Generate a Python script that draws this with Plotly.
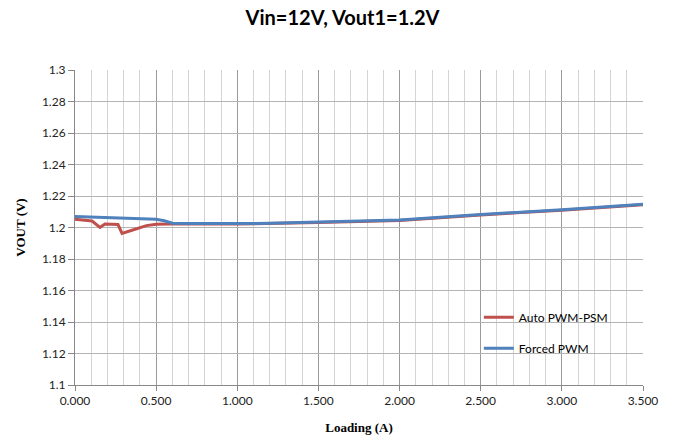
import plotly.graph_objects as go

title_text = "Vin=12V, Vout1=1.2V"
x_title = "Loading (A)"
y_title = "VOUT (V)"

auto_name = "Auto PWM-PSM"
auto_x = [0.0, 0.06, 0.105, 0.154, 0.185, 0.265, 0.29, 0.37, 0.44, 0.5, 0.585, 0.7, 1.0, 1.5, 2.0, 2.5, 3.0, 3.5]
auto_y = [1.2052, 1.2043, 1.2041, 1.2001, 1.2022, 1.2019, 1.1963, 1.1989, 1.2012, 1.2020, 1.2023, 1.2022, 1.2022, 1.2031, 1.2045, 1.2080, 1.2109, 1.2145]

forced_name = "Forced PWM"
forced_x = [0.0, 0.1, 0.2, 0.3, 0.4, 0.5, 0.55, 0.6, 0.7, 0.8, 1.0, 1.2, 1.5, 2.0, 2.5, 3.0, 3.5]
forced_y = [1.2070, 1.2066, 1.2063, 1.2060, 1.2056, 1.2052, 1.2043, 1.2027, 1.2025, 1.2024, 1.2025, 1.2027, 1.2034, 1.2048, 1.2083, 1.2112, 1.2147]

fig = go.Figure()
fig.add_trace(go.Scatter(x=auto_x, y=auto_y, mode="lines", name=auto_name,
                         line=dict(color="#C0504D", width=3), legendgroup="a"))
fig.add_trace(go.Scatter(x=forced_x, y=forced_y, mode="lines", name=forced_name,
                         line=dict(color="#4F81BD", width=3), legendgroup="b"))

fig.update_layout(
    width=673, height=437,
    margin=dict(l=75, r=30, t=70, b=52, autoexpand=False),
    paper_bgcolor="white", plot_bgcolor="white",
    title=dict(text="<b>" + title_text + "</b>", x=0.509, xanchor="center", y=0.959, yanchor="middle",
               font=dict(family="Lato, Open Sans, sans-serif", size=20, color="black")),
    font=dict(family="Lato, Open Sans, sans-serif", size=12, color="#222"),
    legend=dict(x=0.711, y=0.261, xanchor="left", yanchor="top", bgcolor="rgba(0,0,0,0)",
                font=dict(size=12, color="black"), tracegroupgap=12, traceorder="grouped",
                itemwidth=30),
    showlegend=True,
)
fig.update_xaxes(
    range=[0, 3.5], dtick=0.5, tick0=0, tickformat=".3f",
    showgrid=True, gridcolor="#9a9a9a", gridwidth=1,
    minor=dict(dtick=0.1, showgrid=True, gridcolor="#d4d4d4", gridwidth=1),
    ticks="outside", ticklen=5, tickcolor="#888",
    showline=True, linecolor="#888", linewidth=1,
    zeroline=False, automargin=False,
    title=dict(text="<b>" + x_title + "</b>", font=dict(family="Liberation Serif, serif", size=13, color="black"), standoff=15),
    tickfont=dict(size=12, color="#222"),
)
fig.update_yaxes(
    range=[1.1, 1.3], dtick=0.02, tick0=1.1,
    showgrid=True, gridcolor="#b4b4b4", gridwidth=1,
    ticks="outside", ticklen=6, tickcolor="#888",
    showline=True, linecolor="#888", linewidth=1,
    zeroline=False, automargin=False,
    title=dict(text="<b>" + y_title + "</b>", font=dict(family="Liberation Serif, serif", size=13, color="black"), standoff=13),
    tickfont=dict(size=12, color="#222"),
)

fig.write_html("out.html", config={"displayModeBar": False},
               post_script="document.body.style.margin='0';")
